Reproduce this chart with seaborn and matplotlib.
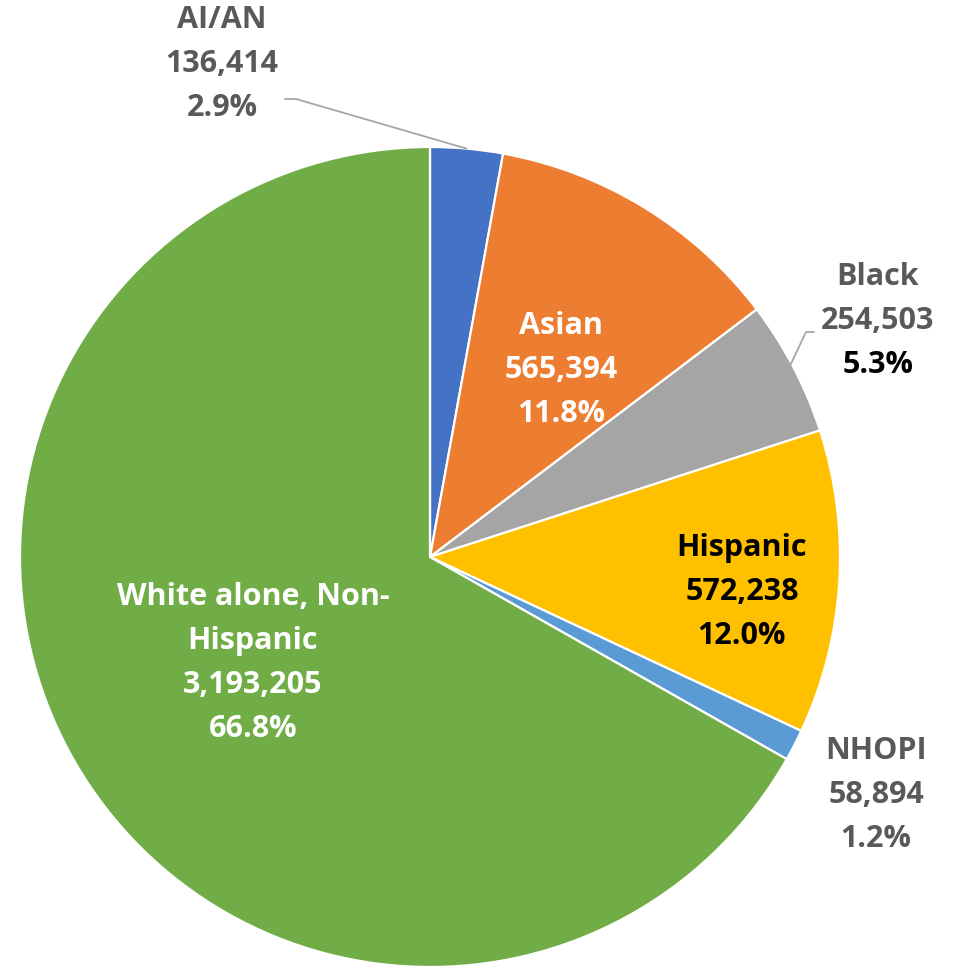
import numpy as np
import matplotlib
matplotlib.use("Agg")
import matplotlib.pyplot as plt
import seaborn as sns

groups = ["AI/AN", "Asian", "Black", "Hispanic", "NHOPI", "White alone, Non-\nHispanic"]
counts = [136414, 565394, 254503, 572238, 58894, 3193205]

colors = ["#4472C4", "#ED7D31", "#A5A5A5", "#FFC000", "#5B9BD5", "#70AD47"]

sns.set_theme(style="white")
plt.rcParams["font.family"] = ["Open Sans", "DejaVu Sans"]

W, H = 958, 970
fig = plt.figure(figsize=(W / 100, H / 100), dpi=100)
ax = fig.add_axes([0, 0, 1, 1])

cx, cy, r = 430, H - 558, 410
wedges, _ = ax.pie(counts, colors=colors, startangle=90, counterclock=False,
                   center=(cx, cy), radius=r, frame=True,
                   wedgeprops=dict(edgecolor="white", linewidth=1.6))
ax.set_xlim(0, W)
ax.set_ylim(0, H)
ax.set_aspect("equal")
ax.axis("off")

total = sum(counts)
pct = [c / total * 100 for c in counts]

# label anchor (center of text block, pixel coords from top) and colours per line
label_pos = [(222, 64), (561, 370), (878, 321), (742, 592), (876, 795), (253, 663)]
GRAY, DARK = "#595959", "#000000"
line_colors = [
    [GRAY, GRAY, GRAY],
    ["white", "white", "white"],
    [GRAY, GRAY, DARK],
    [DARK, DARK, DARK],
    [GRAY, GRAY, GRAY],
    ["white", "white", "white", "white"],
]
step = 44
fs = 22
for i, g in enumerate(groups):
    lines = g.split("\n") + [f"{counts[i]:,}", f"{pct[i]:.1f}%"]
    x0, y0 = label_pos[i]
    n = len(lines)
    for j, (txt, col) in enumerate(zip(lines, line_colors[i])):
        y = y0 + (j - (n - 1) / 2) * step
        ax.text(x0, H - y, txt, ha="center", va="center", fontsize=fs,
                fontweight="bold", color=col)

# leader lines for AI/AN and Black, ending at the wedge's mid-angle on the rim
def rim(k, frac=1.0):
    th = np.deg2rad((wedges[k].theta1 + wedges[k].theta2) / 2)
    return cx + r * frac * np.cos(th), cy + r * frac * np.sin(th)

ex, ey = rim(0)
ax.plot([285, 296, ex], [H - 100, H - 100, ey], color="#A6A6A6", lw=1.3)
bx, by = rim(2, 0.985)
ax.plot([bx, 806, 814], [by, H - 333, H - 333], color="#A6A6A6", lw=1.3)

fig.savefig("out.png", dpi=100)
